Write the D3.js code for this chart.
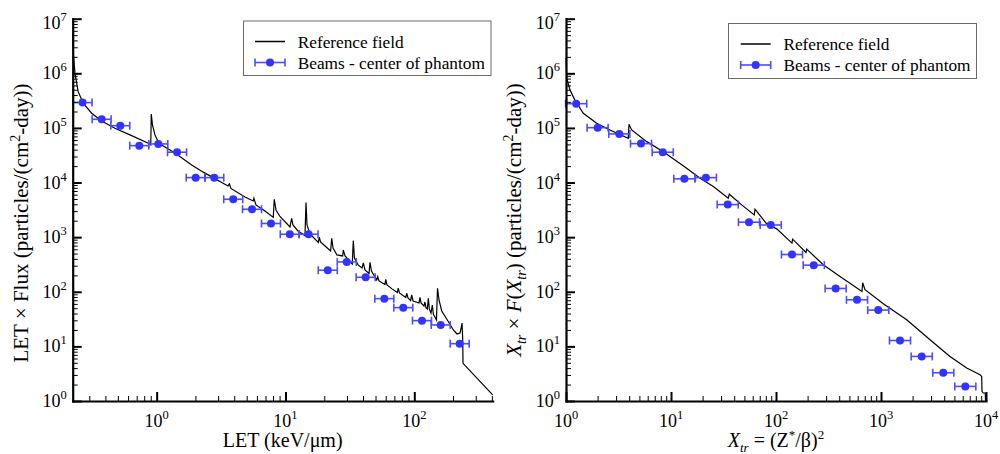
<!DOCTYPE html>
<html><head><meta charset="utf-8">
<script src="https://cdn.jsdelivr.net/npm/d3@7"></script>
<style>
body{margin:0;background:#fff}
svg text{font-family:"Liberation Serif","Times New Roman",serif;fill:#000}
</style></head><body>
<svg id="c" width="1000" height="454" font-family="Liberation Serif, Times New Roman, serif"></svg>
<script>
// ---------- data ----------
const yDecades = [1, 10, 100, 1e3, 1e4, 1e5, 1e6, 1e7];
const letXDecades = [1, 10, 100];
const xtrXDecades = [1, 10, 100, 1000, 10000];
const legendLabels = ["Reference field", "Beams - center of phantom"];

const letBeamX = [0.266,0.374,0.522,0.733,1.03,1.44,2.01,2.80,3.93,5.50,7.72,10.8,15.1,21.3,29.9,41.9,58.5,82.1,114.7,160.3,225];
const letBeamY = [2.91e5,1.44e5,1.10e5,4.74e4,5.09e4,3.59e4,1.23e4,1.23e4,4.94e3,3.24e3,1.78e3,1.13e3,1.13e3,248,352,184,74.8,51.2,29.6,24.7,11.2];
const letBinFactor = 1.185;

const xtrBeamX = [1.25,2.00,3.22,5.18,8.34,13.4,21.5,34.7,55.3,89.1,142,229,370,591,942,1517,2443,3919,6353];
const xtrBeamY = [2.78e5,1.01e5,7.76e4,5.16e4,3.59e4,1.17e4,1.23e4,3.95e3,1.88e3,1.67e3,481,307,115,71.3,46.2,12.8,6.55,3.29,1.85];
const xtrBinFactor = 1.26;

const letRef = [
 [0.2232,5.5e6],[0.226,2.17e6],[0.232,1.02e6],[0.246,4.62e5],[0.269,2.83e5],[0.313,1.86e5],
 [0.374,1.34e5],[0.474,9.88e4],[0.621,7.45e4],[0.861,5.25e4],[0.900,4.88e4],[0.908,1.80e5],
 [0.928,1.14e5],[0.970,7.45e4],[1.02,5.78e4],[1.093,4.88e4],[1.387,3.48e4],[1.87,2.10e4],
 [2.30,1.55e4],[3.58,8.67e3],[3.67,9.43e3],[3.77,7.80e3],[4.85,5.45e3],[5.62,4.60e3],
 [5.69,5.16e3],[5.90,3.89e3],[6.93,3.02e3],[8.04,2.30e3],[8.18,4.94e3],[8.44,3.15e3],
 [9.06,2.39e3],[10.84,1.54e3],[11.17,2.22e3],[11.43,1.67e3],[12.5,1.30e3],[14.17,1.07e3],
 [14.43,4.29e3],[14.69,1.67e3],[15.5,1.15e3],[17.98,800],[18.3,996],[18.7,817],[20.3,690],
 [22.4,559],[22.85,955],[23.4,634],[25.1,472],[27.8,453],[28.1,583],[29.0,453],[33.0,323],
 [33.6,863],[34.3,416],[36.6,310],[39.3,273],[40.2,337],[41.4,251],[44.5,216],[45.3,347],
 [46.5,240],[51.1,164],[52.0,189],[53.2,158],[59.2,136],[60.0,169],[61.4,133],[67.1,113],
 [73.8,97.1],[75.1,116],[76.7,95.1],[85.8,78.7],[87.3,93.9],[89.3,76.9],[93.7,69.3],
 [95.4,87.4],[97.7,67.9],[108.8,62.4],[110.7,79.3],[112.7,62.4],[118.9,55.0],[121,65.0],
 [123.3,50.5],[126.2,48.4],[128.5,76.0],[130.8,48.4],[134.8,40.9],[138.0,57.3],[140.5,39.2],
 [148.6,30.5],[151.4,116],[155.5,70.8],[163.2,44.5],[178.5,31.8],[200.9,20.0],[214.6,16.9],
 [226.4,17.6],[232.6,23.6],[234.7,26.8],[237.6,13.1],[238.8,4.90],[406,1.29]
];

const xtrRef = [
 [1.0,1.91e6],[1.016,8.11e5],[1.092,4.96e5],[1.218,3.2e5],[1.461,1.86e5],[1.96,1.22e5],
 [2.62,9.19e4],[3.92,6.48e4],[3.98,1.17e5],[4.22,9.19e4],[5.87,5.61e4],[8.45,3.68e4],
 [14.1,1.83e4],[18.9,1.20e4],[25.3,8.43e3],[35.1,5.18e3],[35.9,6.12e3],[47.1,3.90e3],
 [62.1,2.56e3],[63.1,3.26e3],[81.5,1.75e3],[101.6,1.42e3],[142,778],[144,920],[193,523],
 [196,604],[282,312],[407,190],[659,101],[669,146],[704,109],[1052,60.3],[1757,30.7],
 [2929,13.2],[4539,6.55],[6550,4.01],[8770,3.03],[9100,2.82],[9160,1.50],[9426,1.40],
 [9840,1.40],[9900,1.0]
];

// ---------- drawing ----------
const svg = d3.select("#c");
const BLUE = "#3333ff", BLUE_BAR = "#4d4dff";

function minorTicks(d0, d1){
  const out = [];
  for (let e = Math.floor(Math.log10(d0)); e <= Math.ceil(Math.log10(d1)); e++)
    for (let k = 2; k <= 9; k++){ const v = k*Math.pow(10,e); if (v >= d0*0.999 && v <= d1*1.001) out.push(v); }
  return out;
}

function powLabel(sel, v){
  sel.text("10");
  sel.append("tspan").attr("font-size", 12.5).attr("dy", -8).text(Math.round(Math.log10(v)));
}

function panel(cfg){
  const g = svg.append("g");
  const x = d3.scaleLog().domain(cfg.xDomain).range([cfg.x0, cfg.x1]);
  const y = d3.scaleLog().domain([1, 1e7]).range([401, 18.7]);

  // reference curve
  g.append("path").datum(cfg.ref)
    .attr("d", d3.line().x(d => x(d[0])).y(d => y(d[1])))
    .attr("fill", "none").attr("stroke", "#000").attr("stroke-width", 1.2)
    .attr("stroke-linejoin", "miter");

  // beams with error bars
  const pts = cfg.bx.map((v, i) => ({x: v, y: cfg.by[i]}));
  const eb = g.append("g").attr("stroke", BLUE_BAR).attr("stroke-width", 1.6);
  eb.selectAll("line.h").data(pts).join("line").attr("class","h")
    .attr("x1", d => x(d.x / cfg.f)).attr("x2", d => x(d.x * cfg.f))
    .attr("y1", d => y(d.y)).attr("y2", d => y(d.y));
  eb.selectAll("line.l").data(pts).join("line").attr("class","l")
    .attr("x1", d => x(d.x / cfg.f)).attr("x2", d => x(d.x / cfg.f))
    .attr("y1", d => y(d.y) - 4).attr("y2", d => y(d.y) + 4);
  eb.selectAll("line.r").data(pts).join("line").attr("class","r")
    .attr("x1", d => x(d.x * cfg.f)).attr("x2", d => x(d.x * cfg.f))
    .attr("y1", d => y(d.y) - 4).attr("y2", d => y(d.y) + 4);
  g.selectAll("circle.m").data(pts).join("circle").attr("class","m")
    .attr("cx", d => x(d.x)).attr("cy", d => y(d.y)).attr("r", 4).attr("fill", BLUE);

  // axes
  const styleAxis = (sel, w) => { sel.selectAll("line").attr("stroke", "#000").attr("stroke-width", w); sel.selectAll("text").remove(); };
  const bx0 = g.append("g").attr("transform", "translate(0,401)")
    .call(d3.axisBottom(x).tickValues(minorTicks(cfg.xDomain[0], cfg.xDomain[1])).tickSizeInner(-5).tickSizeOuter(0).tickFormat(""));
  styleAxis(bx0, 1); bx0.select(".domain").remove();
  const by0 = g.append("g").attr("transform", `translate(${cfg.x0},0)`)
    .call(d3.axisLeft(y).tickValues(minorTicks(1, 1e7)).tickSizeInner(-5).tickSizeOuter(0).tickFormat(""));
  styleAxis(by0, 1); by0.select(".domain").remove();

  const bx1 = g.append("g").attr("transform", "translate(0,401)")
    .call(d3.axisBottom(x).tickValues(cfg.xMajor).tickSizeInner(-9).tickSizeOuter(0).tickFormat(""));
  styleAxis(bx1, 2);
  bx1.select(".domain").attr("stroke", "#000").attr("stroke-width", 2.2).attr("stroke-linecap", "square");
  const by1 = g.append("g").attr("transform", `translate(${cfg.x0},0)`)
    .call(d3.axisLeft(y).tickValues(yDecades).tickSizeInner(-9).tickSizeOuter(0).tickFormat(""));
  styleAxis(by1, 2);
  by1.select(".domain").attr("stroke", "#000").attr("stroke-width", 2.2).attr("stroke-linecap", "square");

  // tick labels
  cfg.xMajor.forEach(v => {
    g.append("text").attr("x", x(v)).attr("y", 427).attr("text-anchor", "middle")
      .attr("font-size", 18).call(powLabel, v);
  });
  yDecades.forEach(v => {
    g.append("text").attr("x", cfg.x0 - 6).attr("y", y(v) + 6 + (v === 1e7 ? 4 : 0))
      .attr("text-anchor", "end").attr("font-size", 18).call(powLabel, v);
  });

  // axis titles
  cfg.xTitle(g.append("text").attr("x", (cfg.x0 + cfg.x1) / 2).attr("y", 447)
    .attr("text-anchor", "middle").attr("font-size", 20));
  cfg.yTitle(g.append("text").attr("transform", `translate(${cfg.yTitleX},${cfg.yTitleY}) rotate(-90)`)
    .attr("text-anchor", "middle").attr("font-size", 21));

  // legend
  const L = cfg.legend;
  g.append("rect").attr("x", L.x).attr("y", L.y).attr("width", L.w).attr("height", L.h)
    .attr("fill", "#fff").attr("stroke", "#6a6a6a").attr("stroke-width", 1);
  g.append("line").attr("x1", L.sx).attr("x2", L.sx + 30).attr("y1", L.y + 20.5).attr("y2", L.y + 20.5)
    .attr("stroke", "#000").attr("stroke-width", 1.5);
  const ly = L.y + 41.5;
  g.append("line").attr("x1", L.sx).attr("x2", L.sx + 30).attr("y1", ly).attr("y2", ly).attr("stroke", BLUE_BAR).attr("stroke-width", 1.6);
  g.append("line").attr("x1", L.sx).attr("x2", L.sx).attr("y1", ly - 4).attr("y2", ly + 4).attr("stroke", BLUE_BAR).attr("stroke-width", 1.6);
  g.append("line").attr("x1", L.sx + 30).attr("x2", L.sx + 30).attr("y1", ly - 4).attr("y2", ly + 4).attr("stroke", BLUE_BAR).attr("stroke-width", 1.6);
  g.append("circle").attr("cx", L.sx + 15).attr("cy", ly).attr("r", 4).attr("fill", BLUE);
  g.append("text").attr("x", L.sx + 42.7).attr("y", L.y + 26.5).attr("font-size", 17.3).text(legendLabels[0]);
  g.append("text").attr("x", L.sx + 42.7).attr("y", L.y + 47.5).attr("font-size", 17.3).text(legendLabels[1]);
}

panel({
  xDomain: [0.223, 406], x0: 72.7, x1: 492.7, xMajor: letXDecades,
  ref: letRef, bx: letBeamX, by: letBeamY, f: letBinFactor,
  yTitleX: 28, yTitleY: 223,
  xTitle: t => t.text("LET (keV/\u03bcm)"),
  yTitle: t => {
    t.append("tspan").text("LET \u00d7 Flux (particles/(cm");
    t.append("tspan").attr("font-size", 14).attr("dy", -8).text("2");
    t.append("tspan").attr("dy", 8).text("-day))");
  },
  legend: {x: 243.5, y: 21, w: 247.5, h: 54.5, sx: 255}
});

panel({
  xDomain: [1, 10000], x0: 566, x1: 986, xMajor: xtrXDecades,
  ref: xtrRef, bx: xtrBeamX, by: xtrBeamY, f: xtrBinFactor,
  yTitleX: 521, yTitleY: 220,
  xTitle: t => {
    t.append("tspan").attr("font-style", "italic").text("X");
    t.append("tspan").attr("font-style", "italic").attr("font-size", 13).attr("dy", 5).text("tr");
    t.append("tspan").attr("dy", -5).text(" = (Z");
    t.append("tspan").attr("font-size", 13).attr("dy", -8).text("*");
    t.append("tspan").attr("dy", 8).text("/\u03b2)");
    t.append("tspan").attr("font-size", 13).attr("dy", -8).text("2");
  },
  yTitle: t => {
    t.append("tspan").attr("font-style", "italic").text("X");
    t.append("tspan").attr("font-style", "italic").attr("font-size", 14).attr("dy", 5).text("tr");
    t.append("tspan").attr("dy", -5).text(" \u00d7 ");
    t.append("tspan").attr("font-style", "italic").text("F");
    t.append("tspan").text("(");
    t.append("tspan").attr("font-style", "italic").text("X");
    t.append("tspan").attr("font-style", "italic").attr("font-size", 14).attr("dy", 5).text("tr");
    t.append("tspan").attr("dy", -5).text(") (particles/(cm");
    t.append("tspan").attr("font-size", 14).attr("dy", -8).text("2");
    t.append("tspan").attr("dy", 8).text("-day))");
  },
  legend: {x: 728.5, y: 23.5, w: 248, h: 55, sx: 740.7}
});
</script>
</body></html>
